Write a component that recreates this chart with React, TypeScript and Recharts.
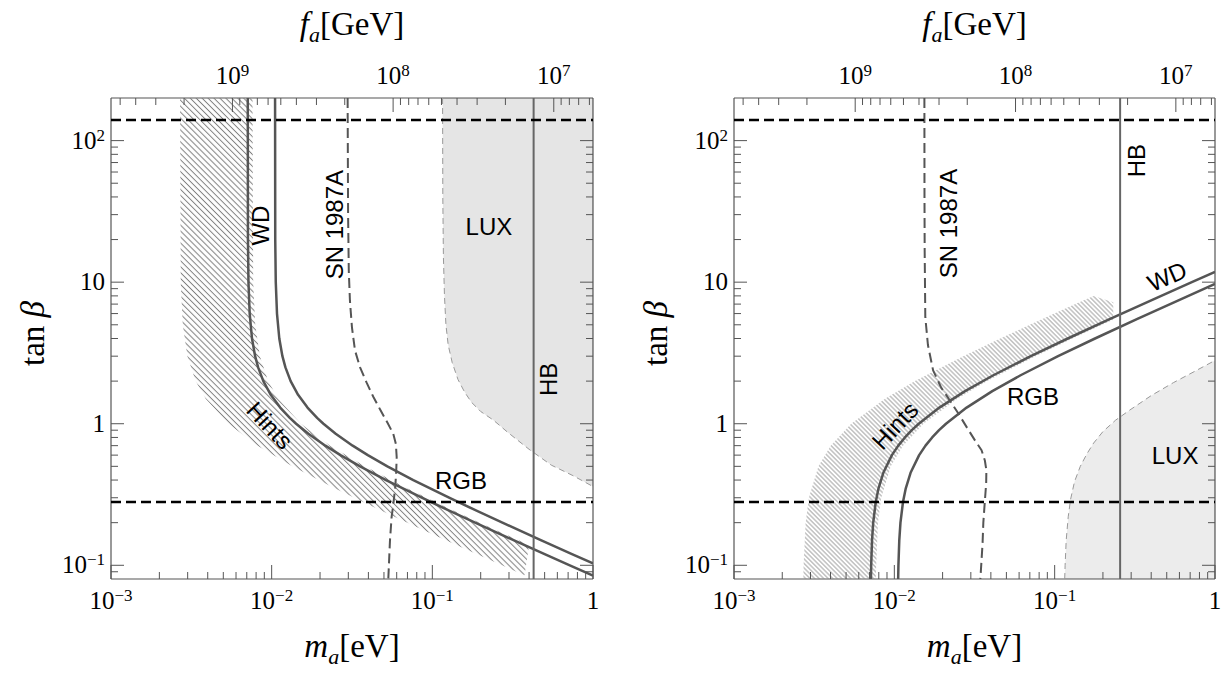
import React from 'react';
import { ScatterChart, Scatter, XAxis, YAxis } from 'recharts';

type Pt = { ma: number; tb: number };
type Lbl = { ma: number; tb: number; text: string };

// ---------- axis ticks ----------
const maMajorTicks = [0.001, 0.01, 0.1, 1];
const maMinorTicks = [
  0.002, 0.003, 0.004, 0.005, 0.006, 0.007, 0.008, 0.009,
  0.02, 0.03, 0.04, 0.05, 0.06, 0.07, 0.08, 0.09,
  0.2, 0.3, 0.4, 0.5, 0.6, 0.7, 0.8, 0.9,
];
const maTickLabels = [['10', '−3'], ['10', '−2'], ['10', '−1'], ['1', '']];

const tanMajorTicks = [0.1, 1, 10, 100];
const tanMinorTicks = [
  0.09, 0.2, 0.3, 0.4, 0.5, 0.6, 0.7, 0.8, 0.9,
  2, 3, 4, 5, 6, 7, 8, 9, 20, 30, 40, 50, 60, 70, 80, 90,
];
const tanTickLabels = [['10', '−1'], ['1', ''], ['10', ''], ['10', '2']];

const faMajorTicks = [1e7, 1e8, 1e9];
const faMinorTicks = [
  6e6, 7e6, 8e6, 9e6,
  2e7, 3e7, 4e7, 5e7, 6e7, 7e7, 8e7, 9e7,
  2e8, 3e8, 4e8, 5e8, 6e8, 7e8, 8e8, 9e8,
  2e9, 3e9, 4e9, 5e9,
];
const faTickLabels = [['10', '7'], ['10', '8'], ['10', '9']];

const maDomain = [0.001, 1];
const tanDomain = [0.08, 200];
const faDomain = [5.7e6, 5.7e9];

// tan(beta) perturbativity bounds
const tanBounds = [0.28, 140];

// ---------- left panel ----------
const wdLeft: Pt[] = [
  { ma: 0.0071002, tb: 200 }, { ma: 0.007118, tb: 20 }, { ma: 0.007171, tb: 10 },
  { ma: 0.007297, tb: 6 }, { ma: 0.007544, tb: 4 }, { ma: 0.007889, tb: 3 },
  { ma: 0.008236, tb: 2.5 }, { ma: 0.008875, tb: 2 }, { ma: 0.009873, tb: 1.6 },
  { ma: 0.011301, tb: 1.3 }, { ma: 0.012967, tb: 1.1 }, { ma: 0.0142, tb: 1 },
  { ma: 0.016927, tb: 0.85 }, { ma: 0.02159, tb: 0.7 }, { ma: 0.026822, tb: 0.6 },
  { ma: 0.0355, tb: 0.5 }, { ma: 0.051475, tb: 0.4 }, { ma: 0.08599, tb: 0.3 },
  { ma: 0.1207, tb: 0.25 }, { ma: 0.1846, tb: 0.2 }, { ma: 0.32266, tb: 0.15 },
  { ma: 0.50015, tb: 0.12 }, { ma: 0.7171, tb: 0.1 }, { ma: 1, tb: 0.0846 },
];
const rgbLeft: Pt[] = [
  { ma: 0.0105003, tb: 200 }, { ma: 0.010526, tb: 20 }, { ma: 0.010605, tb: 10 },
  { ma: 0.010792, tb: 6 }, { ma: 0.011156, tb: 4 }, { ma: 0.011667, tb: 3 },
  { ma: 0.01218, tb: 2.5 }, { ma: 0.013125, tb: 2 }, { ma: 0.014602, tb: 1.6 },
  { ma: 0.016713, tb: 1.3 }, { ma: 0.019177, tb: 1.1 }, { ma: 0.021, tb: 1 },
  { ma: 0.025033, tb: 0.85 }, { ma: 0.031928, tb: 0.7 }, { ma: 0.039667, tb: 0.6 },
  { ma: 0.0525, tb: 0.5 }, { ma: 0.076125, tb: 0.4 }, { ma: 0.12717, tb: 0.3 },
  { ma: 0.1785, tb: 0.25 }, { ma: 0.273, tb: 0.2 }, { ma: 0.47717, tb: 0.15 },
  { ma: 0.73967, tb: 0.12 }, { ma: 1, tb: 0.103 },
];
const snLeft: Pt[] = [
  { ma: 0.0297, tb: 200 }, { ma: 0.0299, tb: 30 }, { ma: 0.0302, tb: 12 },
  { ma: 0.0307, tb: 7.4 }, { ma: 0.0316, tb: 4.8 }, { ma: 0.033, tb: 3.3 },
  { ma: 0.0355, tb: 2.5 }, { ma: 0.039, tb: 1.95 }, { ma: 0.0429, tb: 1.55 },
  { ma: 0.0475, tb: 1.25 }, { ma: 0.0525, tb: 1.02 }, { ma: 0.0571, tb: 0.85 },
  { ma: 0.0593, tb: 0.72 }, { ma: 0.06, tb: 0.58 }, { ma: 0.0596, tb: 0.46 },
  { ma: 0.0588, tb: 0.36 }, { ma: 0.0572, tb: 0.27 }, { ma: 0.0558, tb: 0.22 },
  { ma: 0.0545, tb: 0.15 }, { ma: 0.0532, tb: 0.08 },
];
const hbLeft: Pt[] = [{ ma: 0.427, tb: 0.08 }, { ma: 0.427, tb: 200 }];
const luxLeftEdge: Pt[] = [
  { ma: 0.1158, tb: 200 }, { ma: 0.1162, tb: 40 }, { ma: 0.1172, tb: 15 },
  { ma: 0.119, tb: 8 }, { ma: 0.1215, tb: 5 }, { ma: 0.1255, tb: 3.6 },
  { ma: 0.133, tb: 2.7 }, { ma: 0.1445, tb: 2.05 }, { ma: 0.1585, tb: 1.68 },
  { ma: 0.175, tb: 1.42 }, { ma: 0.2, tb: 1.22 }, { ma: 0.24, tb: 1.06 },
  { ma: 0.2944, tb: 0.87 }, { ma: 0.4, tb: 0.66 }, { ma: 0.55, tb: 0.51 },
  { ma: 0.75, tb: 0.43 }, { ma: 1, tb: 0.36 },
];
const luxLeftCorner: Pt[] = [{ ma: 1, tb: 200 }];
const hintsLeftOuter: Pt[] = [
  { ma: 0.00269, tb: 200 }, { ma: 0.002717, tb: 10 }, { ma: 0.0027976, tb: 5 },
  { ma: 0.0029889, tb: 3 }, { ma: 0.0033625, tb: 2 }, { ma: 0.0038856, tb: 1.5 },
  { ma: 0.00538, tb: 1 }, { ma: 0.00818, tb: 0.7 }, { ma: 0.01345, tb: 0.5 },
  { ma: 0.02465, tb: 0.35 }, { ma: 0.04573, tb: 0.25 }, { ma: 0.08571, tb: 0.18 },
  { ma: 0.16186, tb: 0.13 }, { ma: 0.27169, tb: 0.1 }, { ma: 0.375, tb: 0.085 },
];
const hintsLeftInner: Pt[] = [
  { ma: 0.4, tb: 0.138 }, { ma: 0.34538, tb: 0.15 }, { ma: 0.27058, tb: 0.17 },
  { ma: 0.1976, tb: 0.2 }, { ma: 0.1292, tb: 0.25 }, { ma: 0.069639, tb: 0.35 },
  { ma: 0.038, tb: 0.5 }, { ma: 0.02311, tb: 0.7 }, { ma: 0.0152, tb: 1 },
  { ma: 0.010978, tb: 1.5 }, { ma: 0.0095, tb: 2 }, { ma: 0.0084444, tb: 3 },
  { ma: 0.007904, tb: 5 }, { ma: 0.007676, tb: 10 }, { ma: 0.0076, tb: 200 },
];
const labelsLeft: Lbl[] = [
  { ma: 0.00858, tb: 25.1, text: 'WD' },
  { ma: 0.02476, tb: 25.5, text: 'SN 1987A' },
  { ma: 0.225, tb: 24.7, text: 'LUX' },
  { ma: 0.5316, tb: 2.06, text: 'HB' },
  { ma: 0.00976, tb: 0.974, text: 'Hints' },
  { ma: 0.1507, tb: 0.399, text: 'RGB' },
];

// ---------- right panel ----------
const wdRight: Pt[] = [
  { ma: 0.0071454, tb: 0.08 }, { ma: 0.007171, tb: 0.1 }, { ma: 0.0072598, tb: 0.15 },
  { ma: 0.007384, tb: 0.2 }, { ma: 0.0076566, tb: 0.28 }, { ma: 0.0079698, tb: 0.35 },
  { ma: 0.0085378, tb: 0.45 }, { ma: 0.009656, tb: 0.6 }, { ma: 0.010579, tb: 0.7 },
  { ma: 0.011644, tb: 0.8 }, { ma: 0.012851, tb: 0.9 }, { ma: 0.0142, tb: 1 },
  { ma: 0.019099, tb: 1.3 }, { ma: 0.027619, tb: 1.7 }, { ma: 0.041464, tb: 2.2 },
  { ma: 0.071, tb: 3 }, { ma: 0.1207, tb: 4 }, { ma: 0.22188, tb: 5.5 },
  { ma: 0.40648, tb: 7.5 }, { ma: 0.7171, tb: 10 }, { ma: 1, tb: 11.83 },
];
const rgbRight: Pt[] = [
  { ma: 0.010567, tb: 0.08 }, { ma: 0.010605, tb: 0.1 }, { ma: 0.010736, tb: 0.15 },
  { ma: 0.01092, tb: 0.2 }, { ma: 0.011323, tb: 0.28 }, { ma: 0.011786, tb: 0.35 },
  { ma: 0.012626, tb: 0.45 }, { ma: 0.01428, tb: 0.6 }, { ma: 0.015645, tb: 0.7 },
  { ma: 0.01722, tb: 0.8 }, { ma: 0.019005, tb: 0.9 }, { ma: 0.021, tb: 1 },
  { ma: 0.028245, tb: 1.3 }, { ma: 0.040845, tb: 1.7 }, { ma: 0.06132, tb: 2.2 },
  { ma: 0.105, tb: 3 }, { ma: 0.1785, tb: 4 }, { ma: 0.32813, tb: 5.5 },
  { ma: 0.60113, tb: 7.5 }, { ma: 1, tb: 9.71 },
];
const snRight: Pt[] = [
  { ma: 0.0154, tb: 200 }, { ma: 0.01542, tb: 40 }, { ma: 0.01546, tb: 16.7 },
  { ma: 0.0156, tb: 5.66 }, { ma: 0.0162, tb: 3.6 }, { ma: 0.01745, tb: 2.38 },
  { ma: 0.0196, tb: 1.8 }, { ma: 0.0222, tb: 1.46 }, { ma: 0.0251, tb: 1.18 },
  { ma: 0.0282, tb: 0.95 }, { ma: 0.0319, tb: 0.76 }, { ma: 0.035, tb: 0.65 },
  { ma: 0.0367, tb: 0.55 }, { ma: 0.0375, tb: 0.47 }, { ma: 0.0374, tb: 0.38 },
  { ma: 0.0366, tb: 0.273 }, { ma: 0.0359, tb: 0.2 }, { ma: 0.0355, tb: 0.142 },
  { ma: 0.0344, tb: 0.08 },
];
const hbRight: Pt[] = [{ ma: 0.256, tb: 0.08 }, { ma: 0.256, tb: 200 }];
const luxRightEdge: Pt[] = [
  { ma: 0.1155, tb: 0.08 }, { ma: 0.1162, tb: 0.1 }, { ma: 0.118, tb: 0.15 },
  { ma: 0.1215, tb: 0.22 }, { ma: 0.1255, tb: 0.29 }, { ma: 0.133, tb: 0.39 },
  { ma: 0.1445, tb: 0.5 }, { ma: 0.1585, tb: 0.61 }, { ma: 0.175, tb: 0.73 },
  { ma: 0.2, tb: 0.88 }, { ma: 0.24, tb: 1.06 }, { ma: 0.2944, tb: 1.25 },
  { ma: 0.4, tb: 1.58 }, { ma: 0.55, tb: 1.95 }, { ma: 0.75, tb: 2.35 },
  { ma: 1, tb: 2.8 },
];
const luxRightCorner: Pt[] = [{ ma: 1, tb: 0.08 }];
const hintsRightOuter: Pt[] = [
  { ma: 0.0027069, tb: 0.08 }, { ma: 0.0027169, tb: 0.1 }, { ma: 0.0027976, tb: 0.2 },
  { ma: 0.0029321, tb: 0.3 }, { ma: 0.0033625, tb: 0.5 }, { ma: 0.0040081, tb: 0.7 },
  { ma: 0.00538, tb: 1 }, { ma: 0.0087425, tb: 1.5 }, { ma: 0.01345, tb: 2 },
  { ma: 0.0269, tb: 3 }, { ma: 0.04573, tb: 4 }, { ma: 0.06994, tb: 5 },
  { ma: 0.09953, tb: 6 }, { ma: 0.1345, tb: 7 }, { ma: 0.17485, tb: 8 },
  { ma: 0.232, tb: 7.2 },
];
const hintsRightInner: Pt[] = [
  { ma: 0.232, tb: 5.42 }, { ma: 0.1976, tb: 5 }, { ma: 0.1292, tb: 4 },
  { ma: 0.076, tb: 3 }, { ma: 0.038, tb: 2 }, { ma: 0.0247, tb: 1.5 },
  { ma: 0.0152, tb: 1 }, { ma: 0.011324, tb: 0.7 }, { ma: 0.0095, tb: 0.5 },
  { ma: 0.008284, tb: 0.3 }, { ma: 0.007904, tb: 0.2 }, { ma: 0.0076477, tb: 0.08 },
];
const labelsRight: Lbl[] = [
  { ma: 0.02163, tb: 25.96, text: 'SN 1987A' },
  { ma: 0.322, tb: 72.3, text: 'HB' },
  { ma: 0.502, tb: 10.97, text: 'WD' },
  { ma: 0.0733, tb: 1.561, text: 'RGB' },
  { ma: 0.0101, tb: 0.974, text: 'Hints' },
  { ma: 0.564, tb: 0.598, text: 'LUX' },
];

// ---------- styling ----------
const FRAME = '#555';
const CURVE = '#555';
const SERIF = '"Liberation Serif", "Times New Roman", serif';
const SANS = '"Liberation Sans", Arial, sans-serif';
const anglesLeft: Record<string, number> = { WD: -90, 'SN 1987A': -90, HB: -90, Hints: 47 };
const anglesRight: Record<string, number> = { 'SN 1987A': -90, HB: -90, WD: -24, Hints: -47 };

const findMajor = (v: number, majors: number[]) =>
  majors.findIndex((m) => Math.abs(m - v) / m < 1e-9);

const toPath = (pts: { x: number; y: number }[], close = false) =>
  pts.map((p, i) => `${i ? 'L' : 'M'}${p.x.toFixed(2)},${p.y.toFixed(2)}`).join(' ') +
  (close ? ' Z' : '');

const noShape = () => <g />;

const strokeLine = (stroke: string, width: number, dash?: string) => (p: any) => (
  <path
    d={toPath(p.points)}
    fill="none"
    stroke={stroke}
    strokeWidth={width}
    strokeDasharray={dash}
    strokeLinejoin="round"
  />
);

const shade = (opacity: number) => (p: any) => (
  <path d={toPath(p.points, true)} fill="#000" fillOpacity={opacity} stroke="none" />
);

const hatch = (id: string, gap: number, color: string, width: number) => (p: any) => (
  <g>
    <defs>
      <pattern id={id} width={gap} height={gap} patternUnits="userSpaceOnUse" patternTransform="rotate(-45)">
        <line x1={gap / 2} y1={-1} x2={gap / 2} y2={gap + 1} stroke={color} strokeWidth={width} />
      </pattern>
    </defs>
    <path d={toPath(p.points, true)} fill={`url(#${id})`} stroke="none" />
  </g>
);

const labelShape = (angles: Record<string, number>) => (p: any) => {
  const { cx, cy, payload } = p;
  const a = angles[payload.text] || 0;
  return (
    <text
      x={cx}
      y={cy}
      transform={a ? `rotate(${a}, ${cx}, ${cy})` : undefined}
      textAnchor="middle"
      dominantBaseline="central"
      style={{ fontFamily: SANS, fontSize: 24 }}
      fill="#000"
    >
      {payload.text}
    </text>
  );
};

const tickLabel = (x: number, y: number, lab: string[], anchor: string) => (
  <text x={x} y={y} textAnchor={anchor} style={{ fontFamily: SERIF, fontSize: 25 }} fill="#000">
    <tspan>{lab[0]}</tspan>
    {lab[1] ? (
      <tspan style={{ fontSize: 17 }} dy={-8}>
        {lab[1]}
      </tspan>
    ) : null}
  </text>
);

const bottomTick = (p: any) => {
  const i = findMajor(p.payload.value, maMajorTicks);
  return (
    <g>
      <line x1={p.x} x2={p.x} y1={p.y} y2={p.y - (i >= 0 ? 14 : 7)} stroke={FRAME} />
      {i >= 0 && tickLabel(p.x, p.y + 30, maTickLabels[i], 'middle')}
    </g>
  );
};

const topTick = (p: any) => {
  const i = findMajor(p.payload.value, faMajorTicks);
  return (
    <g>
      <line x1={p.x} x2={p.x} y1={p.y} y2={p.y + (i >= 0 ? 14 : 7)} stroke={FRAME} />
      {i >= 0 && tickLabel(p.x, p.y - 14, faTickLabels[i], 'middle')}
    </g>
  );
};

const leftTick = (p: any) => {
  const i = findMajor(p.payload.value, tanMajorTicks);
  return (
    <g>
      <line x1={p.x} x2={p.x + (i >= 0 ? 13 : 7)} y1={p.y} y2={p.y} stroke={FRAME} />
      {i >= 0 && tickLabel(p.x - 6, p.y + 8, tanTickLabels[i], 'end')}
    </g>
  );
};

const rightTick = (p: any) => {
  const i = findMajor(p.payload.value, tanMajorTicks);
  return <line x1={p.x} x2={p.x - (i >= 0 ? 13 : 7)} y1={p.y} y2={p.y} stroke={FRAME} />;
};

const maTitle = (p: any) => {
  const vb = p.viewBox || { x: 111, y: 579, width: 482, height: 96 };
  return (
    <text x={vb.x + vb.width / 2} y={vb.y + 78} textAnchor="middle" style={{ fontFamily: SERIF, fontSize: 33 }} fill="#000">
      <tspan fontStyle="italic">m</tspan>
      <tspan fontStyle="italic" style={{ fontSize: 22 }} dy={7}>a</tspan>
      <tspan dy={-7}>[eV]</tspan>
    </text>
  );
};

const faTitle = (p: any) => {
  const vb = p.viewBox || { x: 111, y: 0, width: 482, height: 98 };
  return (
    <text x={vb.x + vb.width / 2} y={vb.y + 35} textAnchor="middle" style={{ fontFamily: SERIF, fontSize: 33 }} fill="#000">
      <tspan fontStyle="italic">f</tspan>
      <tspan fontStyle="italic" style={{ fontSize: 22 }} dy={7}>a</tspan>
      <tspan dy={-7}>[GeV]</tspan>
    </text>
  );
};

const tanTitle = (p: any) => {
  const vb = p.viewBox || { x: 0, y: 98, width: 111, height: 481 };
  const cx = vb.x + 33;
  const cy = vb.y + vb.height / 2 - 5;
  return (
    <text
      x={cx}
      y={cy}
      transform={`rotate(-90, ${cx}, ${cy})`}
      textAnchor="middle"
      dominantBaseline="central"
      style={{ fontFamily: SERIF, fontSize: 33 }}
      fill="#000"
    >
      tan <tspan fontStyle="italic">β</tspan>
    </text>
  );
};

const faSpan = [
  { fa: faDomain[0], tb: tanDomain[0] },
  { fa: faDomain[1], tb: tanDomain[1] },
];

interface PanelProps {
  width: number;
  rightWidth: number;
  wd: Pt[];
  rgb: Pt[];
  sn: Pt[];
  hb: Pt[];
  luxEdge: Pt[];
  luxCorner: Pt[];
  luxOpacity: number;
  hintsOuter: Pt[];
  hintsInner: Pt[];
  hatchId: string;
  hatchGap: number;
  hatchColor: string;
  hatchWidth: number;
  labels: Lbl[];
  angles: Record<string, number>;
}

function Panel(props: PanelProps) {
  const lowBound = [
    { ma: maDomain[0], tb: tanBounds[0] },
    { ma: maDomain[1], tb: tanBounds[0] },
  ];
  const highBound = [
    { ma: maDomain[0], tb: tanBounds[1] },
    { ma: maDomain[1], tb: tanBounds[1] },
  ];
  return (
    <ScatterChart width={props.width} height={675} margin={{ top: 0, right: 0, bottom: 0, left: 0 }}>
      <XAxis
        dataKey="ma"
        type="number"
        scale="log"
        domain={maDomain}
        allowDataOverflow
        ticks={[...maMajorTicks, ...maMinorTicks]}
        interval={0}
        tickSize={0}
        tickMargin={0}
        tickLine={false}
        tick={bottomTick}
        height={96}
        axisLine={{ stroke: FRAME, strokeWidth: 1.2 }}
        label={maTitle}
      />
      <XAxis
        xAxisId="fa"
        dataKey="fa"
        orientation="top"
        type="number"
        scale="log"
        domain={faDomain}
        reversed
        allowDataOverflow
        ticks={[...faMajorTicks, ...faMinorTicks]}
        interval={0}
        tickSize={0}
        tickMargin={0}
        tickLine={false}
        tick={topTick}
        height={98}
        axisLine={{ stroke: FRAME, strokeWidth: 1.2 }}
        label={faTitle}
      />
      <YAxis
        dataKey="tb"
        type="number"
        scale="log"
        domain={tanDomain}
        allowDataOverflow
        ticks={[...tanMajorTicks, ...tanMinorTicks]}
        interval={0}
        tickSize={0}
        tickMargin={0}
        tickLine={false}
        tick={leftTick}
        width={111}
        axisLine={{ stroke: FRAME, strokeWidth: 1.2 }}
        label={tanTitle}
      />
      <YAxis
        yAxisId="r"
        dataKey="tb"
        orientation="right"
        type="number"
        scale="log"
        domain={tanDomain}
        allowDataOverflow
        ticks={[...tanMajorTicks, ...tanMinorTicks]}
        interval={0}
        tickSize={0}
        tickMargin={0}
        tickLine={false}
        tick={rightTick}
        width={props.rightWidth}
        axisLine={{ stroke: FRAME, strokeWidth: 1.2 }}
      />
      <Scatter xAxisId="fa" yAxisId="r" data={faSpan} shape={noShape} isAnimationActive={false} />
      <Scatter
        data={[...props.luxEdge, ...props.luxCorner]}
        shape={noShape}
        line={shade(props.luxOpacity)}
        isAnimationActive={false}
      />
      <Scatter
        data={[...props.hintsOuter, ...props.hintsInner]}
        shape={noShape}
        line={hatch(props.hatchId, props.hatchGap, props.hatchColor, props.hatchWidth)}
        isAnimationActive={false}
      />
      <Scatter data={props.luxEdge} shape={noShape} line={strokeLine('#999', 1, '6 4')} isAnimationActive={false} />
      <Scatter data={props.sn} shape={noShape} line={strokeLine(CURVE, 2, '10 5')} isAnimationActive={false} />
      <Scatter data={props.wd} shape={noShape} line={strokeLine(CURVE, 2.5)} isAnimationActive={false} />
      <Scatter data={props.rgb} shape={noShape} line={strokeLine(CURVE, 2.5)} isAnimationActive={false} />
      <Scatter data={props.hb} shape={noShape} line={strokeLine('#666', 2)} isAnimationActive={false} />
      <Scatter data={lowBound} shape={noShape} line={strokeLine('#000', 2.5, '10 5')} isAnimationActive={false} />
      <Scatter data={highBound} shape={noShape} line={strokeLine('#000', 2.5, '10 5')} isAnimationActive={false} />
      <Scatter data={props.labels} shape={labelShape(props.angles)} isAnimationActive={false} />
    </ScatterChart>
  );
}

export default function App() {
  return (
    <div style={{ position: 'absolute', left: 0, top: 0, width: 1229, height: 675, background: '#fff' }}>
      <div style={{ position: 'absolute', left: 0, top: 0 }}>
        <Panel
          width={615}
          rightWidth={22}
          wd={wdLeft}
          rgb={rgbLeft}
          sn={snLeft}
          hb={hbLeft}
          luxEdge={luxLeftEdge}
          luxCorner={luxLeftCorner}
          luxOpacity={0.1}
          hintsOuter={hintsLeftOuter}
          hintsInner={hintsLeftInner}
          hatchId="hatchLeft"
          hatchGap={4.2}
          hatchColor="#808080"
          hatchWidth={1}
          labels={labelsLeft}
          angles={anglesLeft}
        />
      </div>
      <div style={{ position: 'absolute', left: 623, top: 0 }}>
        <Panel
          width={602}
          rightWidth={10}
          wd={wdRight}
          rgb={rgbRight}
          sn={snRight}
          hb={hbRight}
          luxEdge={luxRightEdge}
          luxCorner={luxRightCorner}
          luxOpacity={0.075}
          hintsOuter={hintsRightOuter}
          hintsInner={hintsRightInner}
          hatchId="hatchRight"
          hatchGap={3.2}
          hatchColor="#8c8c8c"
          hatchWidth={0.8}
          labels={labelsRight}
          angles={anglesRight}
        />
      </div>
    </div>
  );
}
